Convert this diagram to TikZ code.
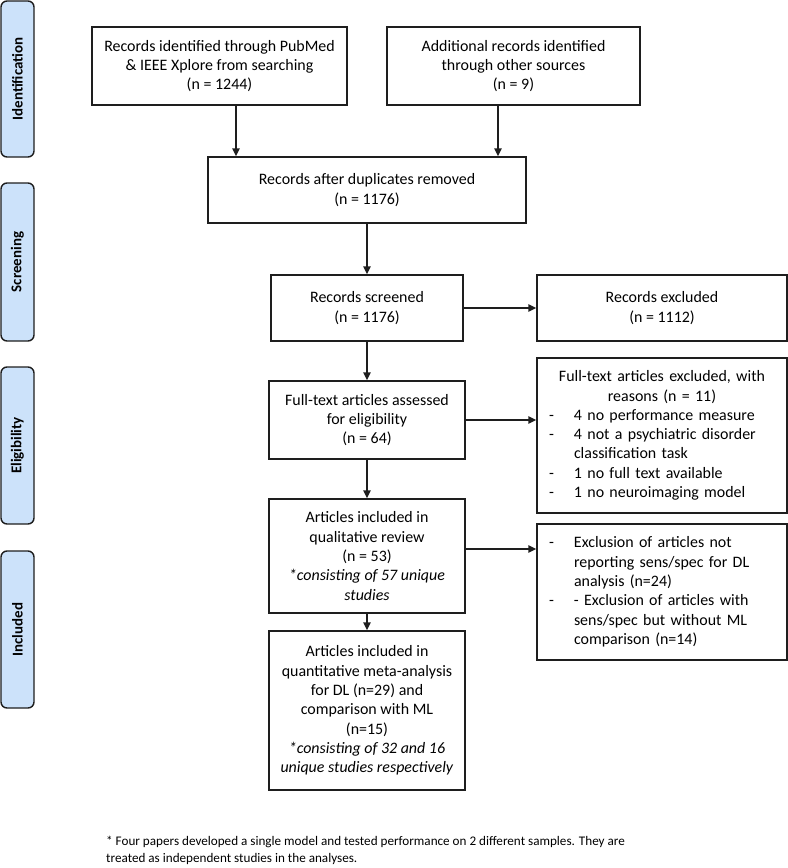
\documentclass[tikz,border=0pt]{standalone}
\usepackage{fontspec}
\setmainfont{Carlito}
\usetikzlibrary{arrows.meta,calc}
\definecolor{phasefill}{RGB}{204,226,250}
\definecolor{linecol}{RGB}{30,30,30}
\newcommand\dsh{\makebox[31bp][l]{\hspace{6bp}-}}
\newcommand\ind{\hspace*{31bp}}
\begin{document}
\begin{tikzpicture}[x=1bp,y=-1bp,
  box/.style={draw=linecol, line width=1.5bp, rectangle, inner sep=0pt, align=center,
    font=\fontsize{16}{19.4}\selectfont},
  phase/.style={draw=linecol, line width=1.4bp, fill=phasefill, rounded corners=6bp,
    rotate=90, minimum height=33bp, inner sep=0pt, font=\fontsize{15}{17}\selectfont\bfseries},
  arr/.style={draw=linecol, line width=1.5bp, -{Triangle[length=8bp,width=7.5bp]}},
  note/.style={align=left, inner sep=0pt, font=\fontsize{13.2}{17}\selectfont}
]
\useasboundingbox (0,0) rectangle (788,868);

% phase labels
\node[phase, minimum width=156bp] (p1) at (17.5,79) {Identification};
\node[phase, minimum width=158bp] (p2) at (17.5,262) {Screening};
\node[phase, minimum width=157bp] (p3) at (17.5,445.5) {Eligibility};
\node[phase, minimum width=157bp] (p4) at (17.5,629.5) {Included};

% boxes
\node[box, minimum width=255bp, minimum height=78bp] (A) at (219.5,66)
  {Records identified through PubMed\\ \& IEEE Xplore from searching\\ (n = 1244)};
\node[box, minimum width=253bp, minimum height=78bp] (B) at (513.5,66)
  {Additional records identified\\ through other sources\\ (n = 9)};
\node[box, minimum width=318bp, minimum height=66bp] (C) at (367,190)
  {Records after duplicates removed\\ (n = 1176)};
\node[box, minimum width=192bp, minimum height=66bp] (D) at (367,308)
  {Records screened\\ (n = 1176)};
\node[box, minimum width=250bp, minimum height=66bp] (E) at (662,308)
  {Records excluded\\ (n = 1112)};
\node[box, minimum width=196bp, minimum height=78bp] (F) at (367,420)
  {Full-text articles assessed\\ for eligibility\\ (n = 64)};
\node[box, minimum width=250bp, minimum height=155bp, text width=238bp, align=left] (G) at (662,435.5)
  {\makebox[238bp]{Full-text articles excluded, with}\\
   \makebox[238bp]{reasons (n = 11)}\\
   \dsh 4 no performance measure\\
   \dsh 4 not a psychiatric disorder\\
   \ind classification task\\
   \dsh 1 no full text available\\
   \dsh 1 no neuroimaging model};
\node[box, minimum width=196bp, minimum height=114bp] (H) at (367,556)
  {Articles included in\\ qualitative review\\ (n = 53)\\ \textit{*consisting of 57 unique}\\ \textit{studies}};
\node[box, minimum width=250bp, minimum height=136bp, text width=238bp, align=left] (I) at (662,592)
  {\dsh Exclusion of articles not\\
   \ind reporting sens/spec for DL\\
   \ind analysis (n=24)\\
   \dsh - Exclusion of articles with\\
   \ind sens/spec but without ML\\
   \ind comparison (n=14)};
\node[box, minimum width=196bp, minimum height=159bp] (J) at (367,710.5)
  {Articles included in\\ quantitative meta-analysis\\ for DL (n=29) and\\ comparison with ML\\ (n=15)\\
   \textit{*consisting of 32 and 16}\\ \textit{unique studies respectively}};

% footnote
\node[note, anchor=north west] (fn) at (106,836)
  {* Four papers developed a single model and tested performance on 2 different samples. They are\\
   treated as independent studies in the analyses.};

% connectors
\coordinate (a1) at ($(A.south)+(16.5,0)$);
\coordinate (b1) at ($(B.south)+(-15.5,0)$);
\coordinate (h1) at ($(H.east)+(0,-7)$);
\draw[arr] (a1) -- (a1 |- C.north);
\draw[arr] (b1) -- (b1 |- C.north);
\draw[arr] (C.south) -- (C.south |- D.north);
\draw[arr] (D.east) -- (D.east -| E.west);
\draw[arr] (D.south) -- (D.south |- F.north);
\draw[arr] (F.east) -- (F.east -| G.west);
\draw[arr] (F.south) -- (F.south |- H.north);
\draw[arr] (h1) -- (h1 -| I.west);
\draw[arr] (H.south) -- (H.south |- J.north);
\end{tikzpicture}
\end{document}
